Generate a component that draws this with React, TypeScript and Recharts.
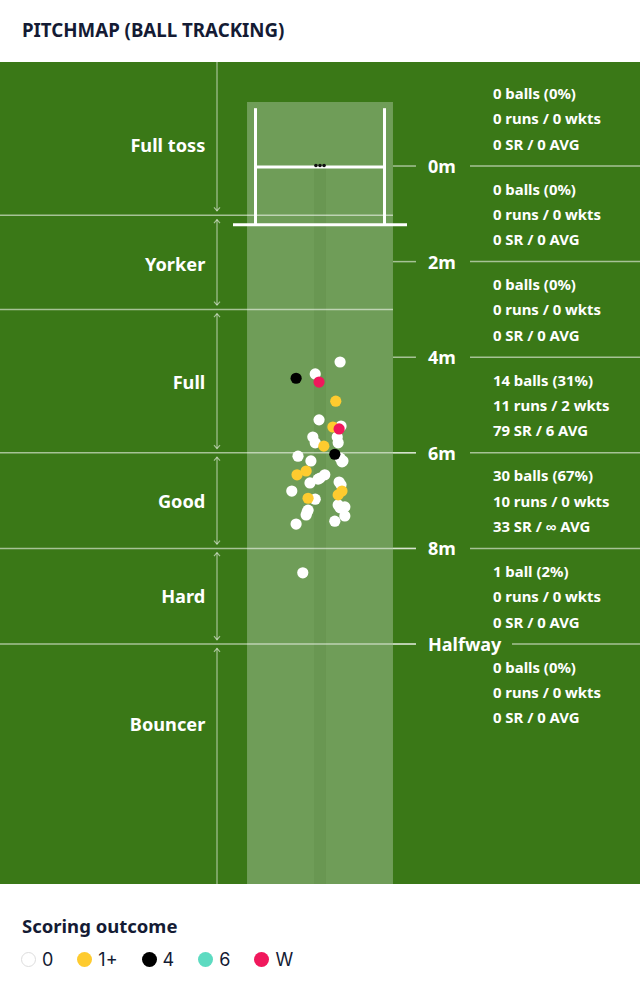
import React from 'react';
import {
  ScatterChart,
  Scatter,
  XAxis,
  YAxis,
  ReferenceArea,
  ReferenceLine,
} from 'recharts';

// ball positions in metres: x = line (0 = middle stump), y = length from the stumps
const dotBalls = [
  { x: -0.10, y: 4.35 }, { x: 0.42, y: 4.10 }, { x: -0.02, y: 5.31 }, { x: 0.44, y: 5.44 },
  { x: -0.15, y: 5.67 }, { x: 0.36, y: 5.67 }, { x: -0.10, y: 5.79 }, { x: 0.38, y: 5.79 },
  { x: -0.46, y: 6.07 }, { x: -0.19, y: 6.17 }, { x: 0.42, y: 6.11 }, { x: 0.46, y: 6.19 },
  { x: 0.10, y: 6.46 }, { x: -0.04, y: 6.55 }, { x: -0.21, y: 6.63 }, { x: 0.40, y: 6.61 },
  { x: -0.59, y: 6.80 }, { x: -0.10, y: 6.97 }, { x: 0.38, y: 7.09 }, { x: 0.52, y: 7.13 },
  { x: -0.25, y: 7.20 }, { x: -0.29, y: 7.30 }, { x: 0.52, y: 7.32 }, { x: -0.50, y: 7.49 },
  { x: 0.31, y: 7.43 }, { x: 0.48, y: 6.17 }, { x: 0.00, y: 6.53 }, { x: 0.44, y: 6.67 },
  { x: -0.27, y: 7.24 }, { x: 0.42, y: 7.15 }, { x: -0.36, y: 8.51 },
];
const runBalls = [
  { x: 0.33, y: 4.92 }, { x: 0.27, y: 5.46 }, { x: 0.08, y: 5.86 },
  { x: -0.29, y: 6.38 }, { x: -0.48, y: 6.46 }, { x: 0.46, y: 6.80 },
  { x: 0.38, y: 6.88 }, { x: -0.25, y: 6.95 },
];
const fourBalls = [{ x: -0.50, y: 4.44 }, { x: 0.31, y: 6.03 }];
const sixBalls: { x: number; y: number }[] = [];
const wicketBalls = [{ x: -0.02, y: 4.52 }, { x: 0.40, y: 5.50 }];

const zoneNames = ['Full toss', 'Yorker', 'Full', 'Good', 'Hard', 'Bouncer'];
const zoneBounds = [-2.176, 1.03, 3.0, 6.0, 8.0, 10.0, 15.02];
const zoneLabelY = [-0.44, 2.05, 4.52, 7.0, 9.0, 11.67];

const markerY = [0, 2, 4, 6, 8, 10];
const markerLabels = ['0m', '2m', '4m', '6m', '8m', 'Halfway'];

const statY = [-1, 1, 3, 5, 7, 9, 11];
const statBalls = ['0 balls (0%)', '0 balls (0%)', '0 balls (0%)', '14 balls (31%)', '30 balls (67%)', '1 ball (2%)', '0 balls (0%)'];
const statRuns = ['0 runs / 0 wkts', '0 runs / 0 wkts', '0 runs / 0 wkts', '11 runs / 2 wkts', '10 runs / 0 wkts', '0 runs / 0 wkts', '0 runs / 0 wkts'];
const statAvg = ['0 SR / 0 AVG', '0 SR / 0 AVG', '0 SR / 0 AVG', '79 SR / 6 AVG', '33 SR / ∞ AVG', '0 SR / 0 AVG', '0 SR / 0 AVG'];

const legendItems = ['0', '1+', '4', '6', 'W'];
const legendColors = ['#ffffff', '#fecb2f', '#000000', '#5ddbc1', '#f0185c'];

// geometry (metres)
const X_MIN = -6.695;
const X_MAX = 6.695;
const PITCH_HALF = 1.527;
const STRIP_HALF = 0.125;
const POST_X = 1.35;
const POST_TOP = -1.21;
const POST_BOTTOM = 1.23;
const BASE_HALF = 1.82;
const ARROW_X = -2.155;
const GAP = 0.09;

const GREEN = '#3a7817';
const PITCH = '#6f9d58';
const LINE = 'rgba(255,255,255,0.55)';
const FONT = '"Noto Sans", sans-serif';

const zoneLabelData = zoneNames.map((name, i) => ({ x: -2.4, y: zoneLabelY[i], name }));
const markerData = markerLabels.map((name, i) => ({ x: 2.26, y: markerY[i], name }));
const statData = statY.map((y, i) => ({ x: 3.618, y, lines: [statBalls[i], statRuns[i], statAvg[i]] }));
const arrowDown = zoneBounds.slice(1, -1).map((b) => ({ x: ARROW_X, y: b - GAP }));
const arrowUp = zoneBounds.slice(1, -1).map((b) => ({ x: ARROW_X, y: b + GAP }));
const stumps = [-0.085, 0, 0.085].map((x) => ({ x, y: -0.01 }));

const ball = (color: string) => (p: any) => (
  <circle cx={p.cx} cy={p.cy} r={5.6} fill={color} />
);

export default function App() {
  return (
    <div style={{ width: 640, height: 1001, background: '#fff', position: 'relative', fontFamily: FONT }}>
      <style>{`body{margin:0}`}</style>
      <div style={{ position: 'absolute', left: 22, top: 17, fontSize: 18.7, fontWeight: 700, color: '#141b34' }}>
        PITCHMAP (BALL TRACKING)
      </div>
      <div style={{ position: 'absolute', left: 0, top: 62, background: GREEN }}>
        <ScatterChart width={640} height={822} margin={{ top: 0, right: 0, bottom: 0, left: 0 }}>
          <XAxis type="number" dataKey="x" domain={[X_MIN, X_MAX]} hide allowDataOverflow />
          <YAxis type="number" dataKey="y" domain={[zoneBounds[0], zoneBounds[zoneBounds.length - 1]]} reversed hide allowDataOverflow />
          <ReferenceArea x1={-PITCH_HALF} x2={PITCH_HALF} y1={-1.34} y2={zoneBounds[zoneBounds.length - 1]} fill={PITCH} fillOpacity={1} stroke="none" />
          <ReferenceArea x1={-STRIP_HALF} x2={STRIP_HALF} y1={0} y2={zoneBounds[zoneBounds.length - 1]} fill="#699752" fillOpacity={1} stroke="none" />
          {/* zone boundaries on the left */}
          {zoneBounds.slice(1, -1).map((b) => (
            <ReferenceLine key={'zb' + b} segment={[{ x: X_MIN, y: b }, { x: markerY.includes(b) ? 2.008 : PITCH_HALF, y: b }]} stroke={LINE} strokeWidth={1.5} />
          ))}
          {/* distance markers on the right */}
          {markerY.map((m) => (
            <ReferenceLine key={'ms' + m} segment={[{ x: PITCH_HALF, y: m }, { x: 2.008, y: m }]} stroke={LINE} strokeWidth={1.5} />
          ))}
          {markerY.map((m, i) => (
            <ReferenceLine key={'ml' + m} segment={[{ x: markerLabels[i] === 'Halfway' ? 4.017 : 3.138, y: m }, { x: X_MAX, y: m }]} stroke={LINE} strokeWidth={1.5} />
          ))}
          {/* zone arrows */}
          {zoneNames.map((z, i) => (
            <ReferenceLine key={'ar' + z} segment={[{ x: ARROW_X, y: i === 0 ? zoneBounds[0] : zoneBounds[i] + GAP }, { x: ARROW_X, y: i === zoneNames.length - 1 ? zoneBounds[i + 1] : zoneBounds[i + 1] - GAP }]} stroke={LINE} strokeWidth={1.2} />
          ))}
          {/* stumps frame */}
          <ReferenceLine segment={[{ x: -POST_X, y: POST_TOP }, { x: -POST_X, y: POST_BOTTOM }]} stroke="#fff" strokeWidth={3} />
          <ReferenceLine segment={[{ x: POST_X, y: POST_TOP }, { x: POST_X, y: POST_BOTTOM }]} stroke="#fff" strokeWidth={3} />
          <ReferenceLine segment={[{ x: -POST_X, y: 0.02 }, { x: POST_X, y: 0.02 }]} stroke="#fff" strokeWidth={3} />
          <ReferenceLine segment={[{ x: -BASE_HALF, y: POST_BOTTOM }, { x: BASE_HALF, y: POST_BOTTOM }]} stroke="#fff" strokeWidth={3} />

          <Scatter data={arrowDown} isAnimationActive={false} shape={(p: any) => (
            <path d={`M${p.cx - 3},${p.cy - 3.5}L${p.cx},${p.cy}L${p.cx + 3},${p.cy - 3.5}`} stroke={LINE} strokeWidth={1.2} fill="none" />
          )} />
          <Scatter data={arrowUp} isAnimationActive={false} shape={(p: any) => (
            <path d={`M${p.cx - 3},${p.cy + 3.5}L${p.cx},${p.cy}L${p.cx + 3},${p.cy + 3.5}`} stroke={LINE} strokeWidth={1.2} fill="none" />
          )} />
          <Scatter data={stumps} isAnimationActive={false} shape={(p: any) => <circle cx={p.cx} cy={p.cy} r={1.8} fill="#111" />} />

          <Scatter data={zoneLabelData} isAnimationActive={false} shape={(p: any) => (
            <text x={p.cx} y={p.cy} textAnchor="end" dominantBaseline="central" fill="#fff" fontSize={18.2} fontWeight={700} fontFamily={FONT}>{p.payload.name}</text>
          )} />
          <Scatter data={markerData} isAnimationActive={false} shape={(p: any) => (
            <text x={p.cx} y={p.cy} textAnchor="start" dominantBaseline="central" fill="#fff" fontSize={18} fontWeight={700} fontFamily={FONT}>{p.payload.name}</text>
          )} />
          <Scatter data={statData} isAnimationActive={false} shape={(p: any) => (
            <g>
              {p.payload.lines.map((t: string, k: number) => (
                <text key={k} x={p.cx} y={p.cy + (k - 1) * 25.3} dominantBaseline="central" fill="#fff" fontSize={14.9} fontWeight={700} fontFamily={FONT}>{t}</text>
              ))}
            </g>
          )} />

          <Scatter data={dotBalls} isAnimationActive={false} shape={ball(legendColors[0])} />
          <Scatter data={runBalls} isAnimationActive={false} shape={ball(legendColors[1])} />
          <Scatter data={fourBalls} isAnimationActive={false} shape={ball(legendColors[2])} />
          <Scatter data={sixBalls} isAnimationActive={false} shape={ball(legendColors[3])} />
          <Scatter data={wicketBalls} isAnimationActive={false} shape={ball(legendColors[4])} />
        </ScatterChart>
      </div>
      <div style={{ position: 'absolute', left: 22, top: 913, fontSize: 18.5, fontWeight: 700, color: '#141b34' }}>
        Scoring outcome
      </div>
      <div style={{ position: 'absolute', left: 21, top: 949, display: 'flex', alignItems: 'center' }}>
        {legendItems.map((t, i) => (
          <div key={t} style={{ display: 'flex', alignItems: 'center', marginRight: 24 }}>
            <span style={{ width: 15, height: 15, borderRadius: '50%', background: legendColors[i], boxSizing: 'border-box', border: i === 0 ? '1px solid #ddd' : 'none', marginRight: 6 }} />
            <span style={{ fontFamily: 'Inter, sans-serif', fontSize: 18, color: '#141b34' }}>{t}</span>
          </div>
        ))}
      </div>
    </div>
  );
}
